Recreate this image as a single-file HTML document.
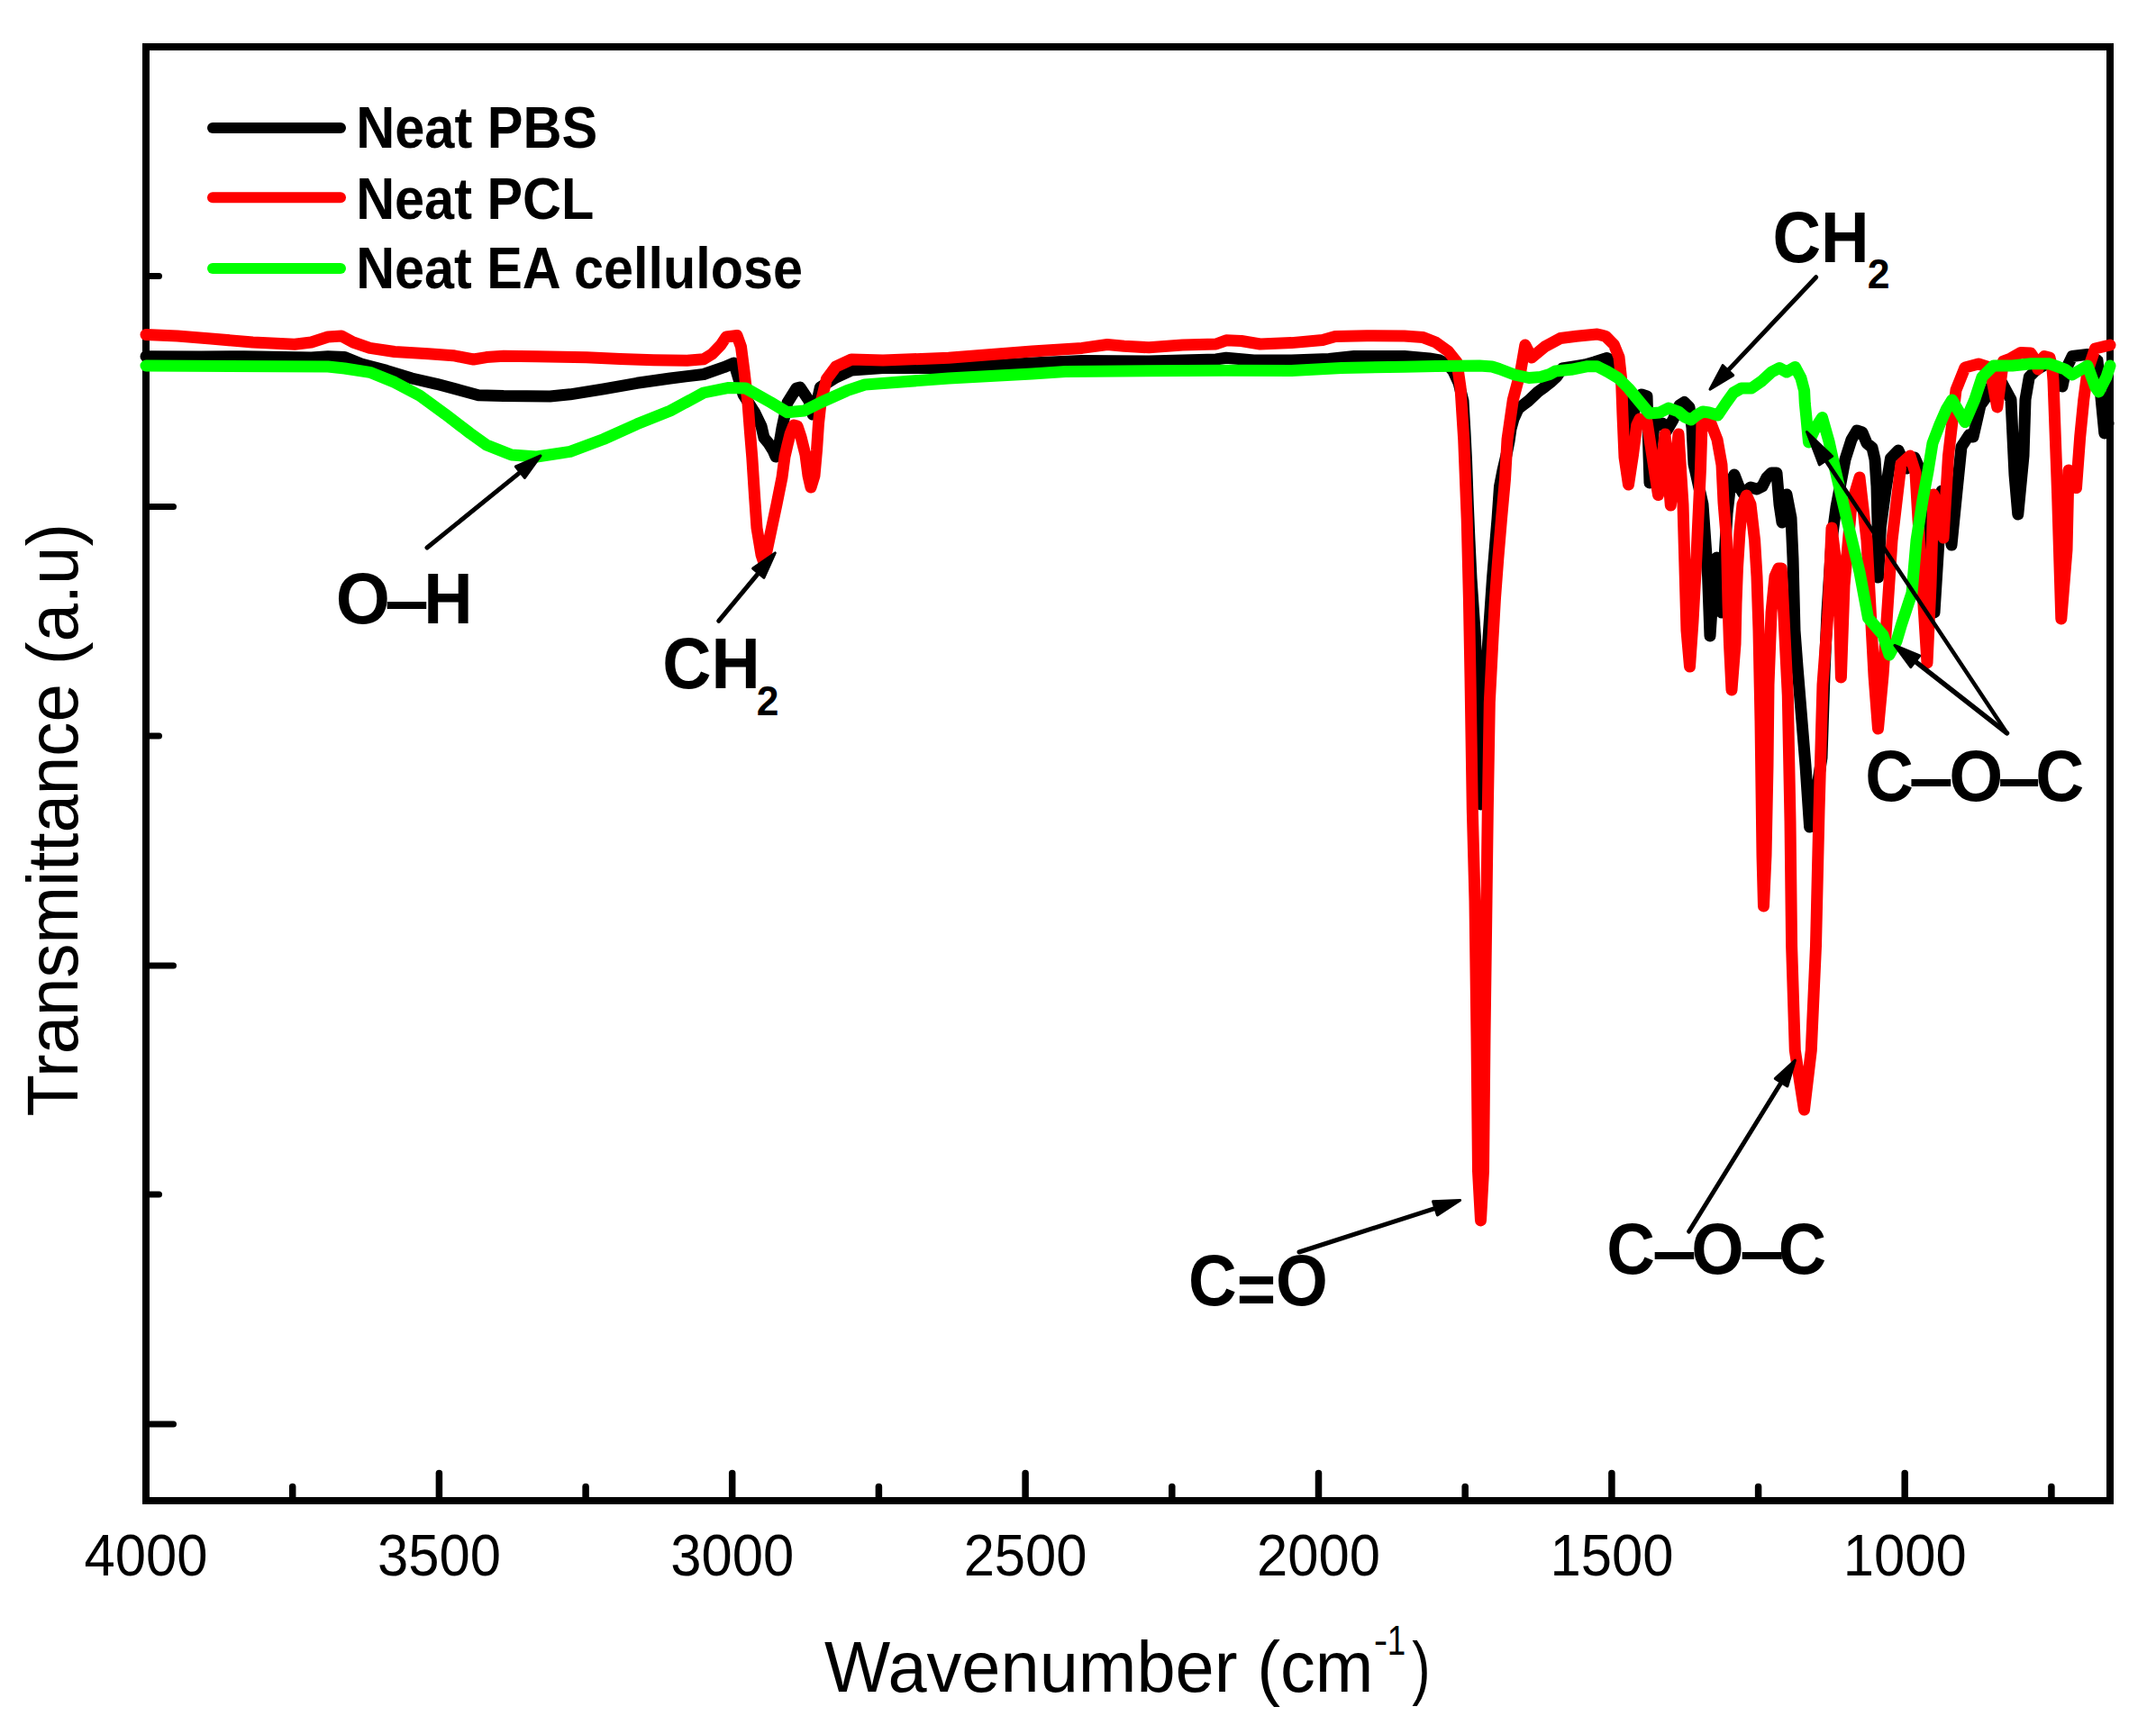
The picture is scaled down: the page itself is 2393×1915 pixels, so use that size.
<!DOCTYPE html>
<html><head><meta charset="utf-8"><title>FTIR spectra</title>
<style>
html,body{margin:0;padding:0;background:#fff;}
body{width:2393px;height:1915px;overflow:hidden;}
svg{display:block;}
text{font-family:"Liberation Sans",Arial,Helvetica,sans-serif;fill:#000;}
.tl{font-size:64px;text-anchor:middle;}
.at{font-size:79px;}
.sup{font-size:45px;}
.lg{font-size:63px;font-weight:bold;}
.an{font-size:79px;font-weight:bold;}
.sub{font-size:45px;}
</style></head>
<body>
<svg width="2393" height="1915" viewBox="0 0 2393 1915">
<rect x="0" y="0" width="2393" height="1915" fill="#fff"/>
<rect x="162" y="52" width="2180" height="1614" fill="none" stroke="#000" stroke-width="8"/>
<line x1="2276.9" y1="1650.5" x2="2276.9" y2="1664" stroke="#000" stroke-width="7.5" stroke-linecap="round"/>
<line x1="2114.2" y1="1635.5" x2="2114.2" y2="1664" stroke="#000" stroke-width="7.5" stroke-linecap="round"/>
<line x1="1951.6" y1="1650.5" x2="1951.6" y2="1664" stroke="#000" stroke-width="7.5" stroke-linecap="round"/>
<line x1="1788.9" y1="1635.5" x2="1788.9" y2="1664" stroke="#000" stroke-width="7.5" stroke-linecap="round"/>
<line x1="1626.2" y1="1650.5" x2="1626.2" y2="1664" stroke="#000" stroke-width="7.5" stroke-linecap="round"/>
<line x1="1463.5" y1="1635.5" x2="1463.5" y2="1664" stroke="#000" stroke-width="7.5" stroke-linecap="round"/>
<line x1="1300.8" y1="1650.5" x2="1300.8" y2="1664" stroke="#000" stroke-width="7.5" stroke-linecap="round"/>
<line x1="1138.1" y1="1635.5" x2="1138.1" y2="1664" stroke="#000" stroke-width="7.5" stroke-linecap="round"/>
<line x1="975.4" y1="1650.5" x2="975.4" y2="1664" stroke="#000" stroke-width="7.5" stroke-linecap="round"/>
<line x1="812.7" y1="1635.5" x2="812.7" y2="1664" stroke="#000" stroke-width="7.5" stroke-linecap="round"/>
<line x1="650.1" y1="1650.5" x2="650.1" y2="1664" stroke="#000" stroke-width="7.5" stroke-linecap="round"/>
<line x1="487.4" y1="1635.5" x2="487.4" y2="1664" stroke="#000" stroke-width="7.5" stroke-linecap="round"/>
<line x1="324.7" y1="1650.5" x2="324.7" y2="1664" stroke="#000" stroke-width="7.5" stroke-linecap="round"/>
<line x1="164" y1="306.5" x2="176.5" y2="306.5" stroke="#000" stroke-width="7" stroke-linecap="round"/>
<line x1="164" y1="562.5" x2="192.5" y2="562.5" stroke="#000" stroke-width="7" stroke-linecap="round"/>
<line x1="164" y1="817" x2="176.5" y2="817" stroke="#000" stroke-width="7" stroke-linecap="round"/>
<line x1="164" y1="1072" x2="192.5" y2="1072" stroke="#000" stroke-width="7" stroke-linecap="round"/>
<line x1="164" y1="1326" x2="176.5" y2="1326" stroke="#000" stroke-width="7" stroke-linecap="round"/>
<line x1="164" y1="1581" x2="192.5" y2="1581" stroke="#000" stroke-width="7" stroke-linecap="round"/>
<text transform="translate(162.0,1749) scale(0.962,1)" class="tl">4000</text>
<text transform="translate(487.4,1749) scale(0.962,1)" class="tl">3500</text>
<text transform="translate(812.7,1749) scale(0.962,1)" class="tl">3000</text>
<text transform="translate(1138.1,1749) scale(0.962,1)" class="tl">2500</text>
<text transform="translate(1463.5,1749) scale(0.962,1)" class="tl">2000</text>
<text transform="translate(1788.9,1749) scale(0.962,1)" class="tl">1500</text>
<text transform="translate(2114.2,1749) scale(0.962,1)" class="tl">1000</text>
<text transform="translate(915.03,1877.8) scale(0.9665,1)" style="font-size:80.3px;font-weight:normal">Wavenumber (cm</text>
<text transform="translate(1524.76,1836.9) scale(1.0182,1)" style="font-size:46px;font-weight:normal">-</text>
<text transform="translate(1539.7,1836.9) scale(0.8,1)" style="font-size:46px">1</text>
<text transform="translate(1567.21,1877.8) scale(0.79,1)" style="font-size:77px;font-weight:normal">)</text>
<text transform="translate(86,1239.5) rotate(-90) scale(0.9499,1)" style="font-size:80.3px">Transmittance (a.u)</text>
<line x1="236" y1="142" x2="378" y2="142" stroke="#000" stroke-width="12" stroke-linecap="round"/>
<line x1="236" y1="219.2" x2="378" y2="219.2" stroke="#f00" stroke-width="12" stroke-linecap="round"/>
<line x1="236" y1="298" x2="378" y2="298" stroke="#0f0" stroke-width="12" stroke-linecap="round"/>
<text transform="translate(395.15,163.6) scale(0.9136,1)" style="font-size:65.2px;font-weight:bold">Neat PBS</text>
<text transform="translate(395.15,242.5) scale(0.9116,1)" style="font-size:65.2px;font-weight:bold">Neat PCL</text>
<text transform="translate(395.16,320.0) scale(0.9104,1)" style="font-size:65.2px;font-weight:bold">Neat EA cellulose</text>
<polyline points="162.0,395.7 223.0,396.0 271.0,395.7 345.5,397.0 364.0,395.7 382.6,396.6 401.0,404.0 429.0,411.4 457.0,420.0 484.7,426.3 512.5,433.7 531.0,438.7 559.0,439.6 610.5,440.0 632.8,437.8 670.0,431.8 707.0,425.3 744.0,420.0 781.0,415.5 803.5,407.7 814.6,403.0 820.0,421.0 825.0,438.0 837.4,457.4 845.0,473.0 848.0,486.0 853.0,492.0 858.0,500.0 861.0,507.0 864.0,497.0 866.0,487.0 868.0,475.0 874.0,447.0 884.0,431.0 888.0,430.0 898.0,445.0 902.0,460.0 906.0,450.0 910.4,430.0 927.8,419.0 945.0,411.0 980.0,408.5 1052.8,408.4 1145.5,402.9 1201.0,400.5 1275.4,401.0 1349.6,399.0 1361.0,397.3 1391.7,400.0 1433.5,400.0 1475.0,398.4 1503.0,395.5 1558.7,395.5 1586.5,398.0 1598.0,400.0 1606.0,404.0 1613.0,412.0 1619.0,425.0 1624.0,445.0 1626.0,480.0 1627.5,510.0 1629.3,560.0 1631.0,600.0 1633.0,642.0 1637.5,708.0 1640.0,780.0 1643.4,893.0 1646.5,800.0 1648.5,760.0 1652.0,708.0 1656.5,642.0 1662.0,576.0 1664.5,540.0 1668.0,522.0 1672.0,505.0 1675.0,490.0 1677.0,476.0 1680.0,465.0 1685.0,454.0 1690.0,450.0 1696.5,445.0 1707.0,435.0 1714.0,430.0 1721.0,424.5 1728.0,418.0 1734.0,409.0 1750.0,406.5 1759.0,405.0 1769.6,402.0 1783.5,397.5 1788.0,400.0 1800.0,425.0 1806.0,455.0 1809.5,483.0 1815.0,450.0 1822.0,438.0 1828.0,440.0 1831.0,536.0 1836.0,470.0 1845.0,470.0 1850.0,478.0 1857.0,466.0 1864.0,450.0 1869.5,446.5 1875.0,452.0 1878.0,475.0 1880.0,515.0 1890.0,560.0 1895.6,640.0 1898.0,706.0 1901.0,660.0 1903.0,625.0 1905.5,619.0 1909.0,650.0 1911.0,680.0 1914.0,620.0 1917.0,570.0 1921.0,535.0 1925.0,527.0 1930.0,540.0 1935.0,548.0 1943.0,541.0 1950.0,543.0 1956.0,540.0 1961.0,530.0 1966.0,525.0 1972.0,525.0 1975.0,560.0 1978.0,580.0 1983.0,549.0 1988.0,575.0 1990.0,620.0 1992.0,700.0 1995.0,740.0 2004.0,850.0 2008.6,918.0 2016.0,880.0 2022.0,841.0 2025.0,749.0 2028.0,679.0 2033.0,600.0 2038.0,563.0 2048.0,510.0 2055.0,488.0 2061.0,478.0 2067.0,480.0 2072.0,492.0 2078.0,497.0 2081.0,510.0 2083.0,540.0 2084.0,580.0 2084.6,641.0 2087.4,585.0 2093.0,543.5 2098.5,508.7 2107.0,500.0 2116.0,520.0 2125.0,508.0 2135.0,530.0 2142.0,600.0 2147.0,680.0 2152.0,600.0 2155.0,545.0 2160.0,560.0 2166.0,605.0 2172.0,545.0 2177.0,496.0 2185.5,483.0 2190.0,485.0 2198.0,450.0 2206.0,439.0 2212.6,422.6 2222.0,425.0 2232.0,443.5 2236.0,527.0 2239.8,571.0 2246.0,506.0 2248.0,443.5 2252.3,418.5 2260.6,410.0 2275.0,402.0 2283.0,410.0 2289.0,429.0 2293.0,410.0 2300.0,395.5 2317.0,393.4 2328.0,400.0 2335.8,481.0 2340.0,470.0" fill="none" stroke="#000" stroke-width="13" stroke-linejoin="round" stroke-linecap="round"/>
<polyline points="162.0,371.5 197.0,373.0 234.0,376.0 280.6,380.0 327.0,382.3 345.5,380.0 364.0,374.0 379.0,373.0 392.0,380.0 410.5,386.4 438.0,390.5 475.4,392.7 503.0,394.7 525.5,399.0 540.0,396.6 559.0,395.3 595.7,395.7 651.0,396.8 688.4,398.4 725.5,399.7 762.6,400.3 781.0,398.8 790.4,393.0 800.0,383.0 806.0,374.0 818.0,372.5 822.5,385.0 826.0,412.0 830.0,447.0 832.5,480.0 834.8,508.0 837.5,550.0 840.0,586.0 845.0,616.0 848.0,625.0 851.0,612.0 856.5,586.0 862.0,560.0 868.0,530.0 871.0,507.0 874.0,494.0 877.0,482.0 881.0,472.0 885.0,473.0 889.0,485.0 894.0,505.0 897.0,528.0 900.0,541.0 904.0,528.0 906.5,500.0 908.5,470.0 911.0,447.0 917.4,421.0 927.8,407.0 945.0,399.0 980.0,400.0 1052.8,397.3 1145.5,390.0 1201.0,386.4 1229.0,382.5 1247.6,384.3 1275.4,385.8 1312.5,383.0 1349.6,382.0 1361.0,377.8 1377.8,378.5 1398.7,382.0 1433.5,380.6 1468.0,377.5 1482.0,373.4 1517.0,372.8 1558.7,373.0 1579.6,374.6 1593.5,380.0 1607.4,390.0 1617.0,402.0 1621.0,430.0 1624.7,488.0 1628.2,576.0 1630.4,664.0 1632.0,752.0 1634.3,899.0 1637.0,1000.0 1639.0,1150.0 1640.5,1300.0 1643.5,1355.0 1646.5,1300.0 1648.0,1150.0 1650.0,1000.0 1651.3,899.0 1653.3,780.0 1657.0,708.0 1659.5,664.0 1662.8,620.0 1666.5,576.0 1670.5,532.0 1673.0,488.0 1679.3,444.0 1688.0,411.0 1692.8,383.0 1700.0,397.0 1714.8,384.8 1732.0,375.5 1749.6,373.2 1772.8,371.0 1782.0,373.2 1791.3,382.5 1797.0,396.4 1799.5,420.0 1801.0,461.0 1803.0,507.5 1807.5,538.0 1812.5,505.0 1816.7,472.0 1820.0,465.0 1828.0,468.0 1840.5,549.5 1848.0,482.0 1854.3,561.0 1863.0,482.0 1868.0,560.0 1872.0,700.0 1875.5,740.0 1879.0,690.0 1883.0,617.0 1887.5,520.0 1889.0,470.0 1899.0,470.0 1906.0,488.0 1911.0,516.0 1913.0,558.0 1916.5,600.0 1918.0,670.0 1919.5,715.0 1922.0,766.0 1926.0,715.0 1927.0,670.0 1928.5,630.0 1931.0,590.0 1934.0,560.0 1938.5,550.0 1943.0,560.0 1947.6,600.0 1950.0,640.0 1952.0,700.0 1954.0,800.0 1956.0,950.0 1957.5,1006.0 1960.0,950.0 1962.0,850.0 1963.0,760.0 1966.0,680.0 1970.0,640.0 1974.0,631.0 1977.3,631.0 1984.3,772.0 1987.0,911.0 1988.6,1050.0 1992.3,1166.0 2002.5,1232.0 2010.3,1166.0 2015.5,1050.0 2019.0,900.0 2023.0,760.0 2029.0,680.0 2033.0,586.0 2041.0,650.0 2043.4,752.0 2047.0,650.0 2055.0,560.0 2064.0,530.0 2072.0,600.0 2080.0,750.0 2084.5,809.0 2090.0,750.0 2100.0,600.0 2110.0,515.0 2120.0,506.0 2126.0,525.0 2128.0,560.0 2133.0,640.0 2139.0,736.0 2143.0,650.0 2146.0,549.0 2151.0,560.0 2157.0,597.0 2162.5,506.0 2171.0,433.0 2181.0,408.0 2196.0,404.0 2208.5,408.0 2216.8,452.0 2223.5,401.0 2231.6,398.0 2243.0,391.5 2254.0,392.0 2258.0,398.0 2262.0,410.0 2265.0,400.0 2269.0,395.5 2275.0,397.0 2278.0,410.0 2279.0,422.6 2283.6,548.0 2287.8,687.0 2294.0,610.5 2296.0,522.0 2300.0,530.0 2304.5,541.6 2308.7,485.0 2312.8,443.5 2317.0,412.0 2325.4,387.0 2342.0,383.0" fill="none" stroke="#f00" stroke-width="13" stroke-linejoin="round" stroke-linecap="round"/>
<polyline points="162.0,406.0 364.0,407.0 382.6,409.0 410.5,413.3 438.0,424.4 466.0,439.3 494.0,459.7 521.8,481.0 540.0,494.0 567.8,505.0 595.7,507.0 632.8,501.4 670.0,487.5 707.0,470.8 744.0,456.0 781.0,436.0 809.0,430.4 827.6,431.0 855.4,446.7 874.0,457.8 892.5,456.0 911.0,446.7 940.0,433.7 960.0,427.0 1052.8,420.0 1145.5,415.0 1182.6,412.5 1360.0,411.2 1433.5,411.5 1489.0,408.4 1558.7,407.3 1593.5,406.4 1642.0,406.0 1656.0,407.0 1664.0,409.5 1681.0,416.0 1697.0,419.5 1710.0,418.5 1720.0,415.5 1726.4,412.0 1743.8,410.3 1761.0,406.8 1772.8,406.8 1784.3,412.6 1796.0,419.6 1807.5,431.0 1819.0,445.0 1830.7,459.0 1842.0,458.0 1852.0,453.0 1863.0,457.0 1870.0,463.0 1877.0,466.0 1883.0,461.0 1890.0,457.0 1897.0,458.0 1906.7,461.0 1915.4,448.0 1924.0,436.0 1932.8,431.0 1944.0,431.0 1956.0,422.6 1966.3,413.0 1975.0,408.5 1983.0,413.0 1992.5,407.5 1999.0,419.8 2002.6,433.7 2003.3,447.6 2004.7,461.5 2006.0,475.4 2007.5,491.0 2015.0,475.0 2022.5,463.5 2030.0,490.0 2036.4,519.0 2050.0,577.0 2064.0,635.0 2073.5,686.0 2090.0,705.0 2097.0,727.0 2105.0,712.0 2110.6,693.0 2122.0,658.4 2127.0,600.0 2134.0,555.0 2140.0,523.0 2145.0,492.0 2153.0,471.0 2160.0,455.0 2166.7,444.0 2181.0,468.6 2191.8,443.5 2200.0,418.5 2212.6,406.0 2233.5,406.0 2254.4,403.8 2275.0,403.8 2292.0,410.0 2300.0,416.0 2317.0,406.0 2325.4,429.0 2329.5,435.0 2338.0,418.5 2342.0,406.0" fill="none" stroke="#0f0" stroke-width="13" stroke-linejoin="round" stroke-linecap="round"/>
<text transform="translate(372.81,691.8) scale(0.9625,1)" style="font-size:80.4px;font-weight:bold">O</text>
<text transform="translate(427.11,693.0999999999999) scale(1.095,1)" style="font-size:80.4px;font-weight:bold">–</text>
<text transform="translate(470.31,691.8) scale(0.9375,1)" style="font-size:80.4px;font-weight:bold">H</text>
<text transform="translate(735.2,763.9) scale(0.9343,1)" style="font-size:80.4px;font-weight:bold">CH</text>
<text transform="translate(839.85,793.7) scale(0.9727,1)" style="font-size:45.6px;font-weight:bold">2</text>
<text transform="translate(1783.13,1413.5) scale(0.9245,1)" style="font-size:80.4px;font-weight:bold">C</text>
<text transform="translate(1834.01,1414.8) scale(1.095,1)" style="font-size:80.4px;font-weight:bold">–</text>
<text transform="translate(1877.2,1413.5) scale(0.9339,1)" style="font-size:80.4px;font-weight:bold">O</text>
<text transform="translate(1930.88,1414.8) scale(1.1075,1)" style="font-size:80.4px;font-weight:bold">–</text>
<text transform="translate(1973.74,1413.5) scale(0.9189,1)" style="font-size:80.4px;font-weight:bold">C</text>
<text transform="translate(1967.43,291.0) scale(0.9231,1)" style="font-size:80.4px;font-weight:bold">CH</text>
<text transform="translate(2072.85,320.0) scale(0.9773,1)" style="font-size:45.6px;font-weight:bold">2</text>
<text transform="translate(2070.23,888.5) scale(0.9245,1)" style="font-size:80.4px;font-weight:bold">C</text>
<text transform="translate(2118.8,889.8) scale(1.1,1)" style="font-size:80.4px;font-weight:bold">–</text>
<text transform="translate(2163.32,888.5) scale(0.9607,1)" style="font-size:80.4px;font-weight:bold">O</text>
<text transform="translate(2217.58,889.8) scale(1.0575,1)" style="font-size:80.4px;font-weight:bold">–</text>
<text transform="translate(2259.21,888.5) scale(0.9302,1)" style="font-size:80.4px;font-weight:bold">C</text>
<text transform="translate(1318.93,1449.4) scale(0.9248,1)" style="font-size:80.4px;font-weight:bold">C<tspan dy="9">=</tspan><tspan dy="-9">O</tspan></text>
<line x1="474.0" y1="608.0" x2="586.5" y2="516.9" stroke="#000" stroke-width="5" stroke-linecap="round"/><polygon points="600.0,506.0 582.5,530.5 572.4,518.0" fill="#000" stroke="#000" stroke-width="3" stroke-linejoin="round"/>
<line x1="797.7" y1="689.3" x2="849.2" y2="627.3" stroke="#000" stroke-width="5" stroke-linecap="round"/><polygon points="860.3,613.9 847.9,641.3 835.6,631.1" fill="#000" stroke="#000" stroke-width="3" stroke-linejoin="round"/>
<line x1="1442.0" y1="1390.0" x2="1604.0" y2="1337.8" stroke="#000" stroke-width="5" stroke-linecap="round"/><polygon points="1620.6,1332.5 1595.4,1349.0 1590.5,1333.8" fill="#000" stroke="#000" stroke-width="3" stroke-linejoin="round"/>
<line x1="1874.7" y1="1367.0" x2="1983.2" y2="1191.8" stroke="#000" stroke-width="5" stroke-linecap="round"/><polygon points="1992.4,1177.0 1983.9,1205.9 1970.3,1197.4" fill="#000" stroke="#000" stroke-width="3" stroke-linejoin="round"/>
<line x1="2015.7" y1="307.7" x2="1910.0" y2="419.6" stroke="#000" stroke-width="5" stroke-linecap="round"/><polygon points="1898.0,432.2 1912.1,405.6 1923.7,416.6" fill="#000" stroke="#000" stroke-width="3" stroke-linejoin="round"/>
<line x1="2227.5" y1="813.8" x2="2116.6" y2="727.1" stroke="#000" stroke-width="5.5" stroke-linecap="round"/><polygon points="2102.9,716.4 2130.7,728.0 2120.8,740.6" fill="#000" stroke="#000" stroke-width="3" stroke-linejoin="round"/>
<line x1="2227.5" y1="813.8" x2="2018.1" y2="498.5" stroke="#000" stroke-width="4.5" stroke-linecap="round"/><polygon points="2005.5,479.5 2033.6,506.5 2019.4,515.9" fill="#000" stroke="#000" stroke-width="3" stroke-linejoin="round"/>
</svg>
</body></html>
